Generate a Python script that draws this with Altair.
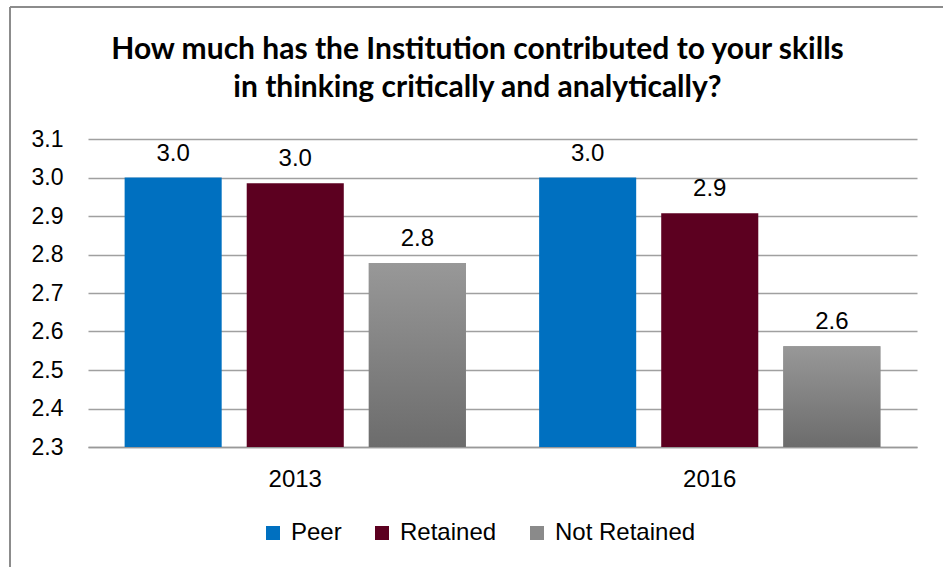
import altair as alt
import pandas as pd

years = ["2013", "2013", "2013", "2016", "2016", "2016"]
groups = ["Peer", "Retained", "Not Retained", "Peer", "Retained", "Not Retained"]
values = [3.0, 2.985, 2.778, 3.0, 2.907, 2.562]
group_order = ["Peer", "Retained", "Not Retained"]
group_colors = ["#0070C0", "#5C0020", "#8A8A8A"]
y_ticks = [2.3, 2.4, 2.5, 2.6, 2.7, 2.8, 2.9, 3.0, 3.1]
title_lines = ["How much has the Institution contributed to your skills",
               "in thinking critically and analytically?"]

df = pd.DataFrame({"year": years, "group": groups, "value": values})

W, H = 829, 308
PAD_L, PAD_T = 88, 139
FONT = "Liberation Sans"

x_enc = alt.X("year:N", title=None,
              scale=alt.Scale(paddingInner=0, paddingOuter=0),
              axis=alt.Axis(labelAngle=0, labelFont=FONT, labelFontSize=24,
                            labelColor="black", labelPadding=20, ticks=False,
                            domain=True, domainColor="#999999", domainWidth=1.5, grid=False))
xo_enc = alt.XOffset("group:N", sort=group_order,
                     scale=alt.Scale(paddingInner=0.205, paddingOuter=0.3))
y_enc = alt.Y("value:Q", title=None,
              scale=alt.Scale(domain=[2.3, 3.1], zero=False, nice=False),
              axis=alt.Axis(values=y_ticks, format=".1f", labelFont=FONT,
                            labelFontSize=23, labelColor="black", labelPadding=25,
                            ticks=False, domain=False, gridColor="#A0A0A0", gridWidth=1.5))

bars = alt.Chart(df).mark_bar().encode(
    x=x_enc, xOffset=xo_enc, y=y_enc, y2=alt.datum(2.3),
    color=alt.Color("group:N", sort=group_order,
                    scale=alt.Scale(domain=group_order, range=group_colors),
                    legend=alt.Legend(title=None, orient="none", direction="horizontal",
                                      legendX=173, legendY=382,
                                      symbolType="square", symbolSize=196,
                                      symbolStrokeWidth=0, labelFont=FONT,
                                      labelFontSize=24, labelColor="black",
                                      labelOffset=6, columnPadding=28))
)

grad = alt.Chart(df).transform_filter(alt.datum.group == "Not Retained").mark_bar(
    color=alt.LinearGradient(gradient="linear", x1=0, x2=0, y1=0, y2=1,
                             stops=[alt.GradientStop(color="#989898", offset=0),
                                    alt.GradientStop(color="#6C6C6C", offset=1)])
).encode(x=x_enc, xOffset=xo_enc, y=y_enc, y2=alt.datum(2.3))

labels = alt.Chart(df).mark_text(font=FONT, fontSize=24, color="black",
                                 baseline="alphabetic", dy=-17).encode(
    x=x_enc, xOffset=xo_enc, y=y_enc,
    text=alt.Text("value:Q", format=".1f"))

frame_left = alt.Chart(df).mark_rule(color="#8C8C8C", strokeWidth=2).encode(
    x=alt.value(-78), y=alt.value(-132), y2=alt.value(440))
frame_top = alt.Chart(df).mark_rule(color="#8C8C8C", strokeWidth=2).encode(
    x=alt.value(-78), x2=alt.value(870), y=alt.value(-132))

chart = alt.layer(bars, grad, labels, frame_left, frame_top).properties(
    width=W, height=H,
    title=alt.TitleParams(text=title_lines, font="Lato", fontWeight="bold", fontSize=30,
                          color="black", anchor="middle", frame="group", dx=-25,
                          offset=-97, lineHeight=38),
    autosize=alt.AutoSizeParams(type="none"),
    padding={"left": PAD_L, "top": PAD_T, "right": 943 - PAD_L - W, "bottom": 567 - PAD_T - H},
    background="white"
).configure_view(stroke=None)

chart.save("out.html", embed_options={"renderer": "svg", "actions": False})
